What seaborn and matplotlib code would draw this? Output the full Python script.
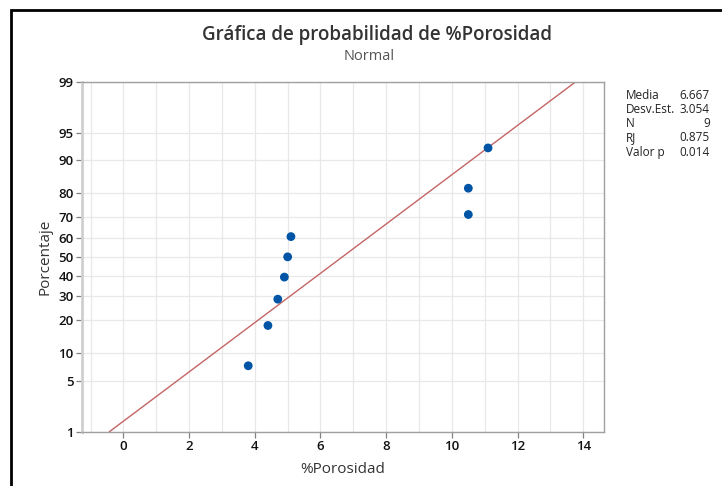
import math
import numpy as np
import pandas as pd
import matplotlib
matplotlib.use("Agg")
import matplotlib.pyplot as plt
import matplotlib.ticker as mticker
from matplotlib.patches import Rectangle
import seaborn as sns
from statistics import NormalDist

# ---- data ----
porosidad = [3.8, 4.4, 4.7, 4.9, 5.0, 5.1, 10.5, 10.5, 11.1]
porcentaje = [7.4, 18.1, 28.7, 39.4, 50.0, 60.6, 71.3, 81.9, 92.6]
media = 6.667
desv = 3.054
n = 9
rj = 0.875
valor_p = 0.014
y_ticks = [1, 5, 10, 20, 30, 40, 50, 60, 70, 80, 90, 95, 99]
x_ticks = [0, 2, 4, 6, 8, 10, 12, 14]
line_pct = [1, 99]

nd = NormalDist()


def _f(p):
    if p is None or math.isnan(p):
        return float("nan")
    return nd.inv_cdf(min(max(p / 100.0, 1e-9), 1 - 1e-9))


def _i(z):
    if z is None or math.isnan(z):
        return float("nan")
    return nd.cdf(z) * 100.0


_fwd = np.vectorize(_f, otypes=[float])
_inv = np.vectorize(_i, otypes=[float])


def forward(p):
    return _fwd(np.asarray(p, dtype=float))


def inverse(z):
    return _inv(np.asarray(z, dtype=float))


line_x = [media + desv * nd.inv_cdf(p / 100.0) for p in line_pct]

df = pd.DataFrame({"x": porosidad, "p": porcentaje})
df_line = pd.DataFrame({"x": line_x, "p": line_pct})

sns.set_theme(style="white")
plt.rcParams["font.family"] = ["Open Sans", "DejaVu Sans"]

fig = plt.figure(figsize=(7.22, 4.86), dpi=100)
ax = fig.add_axes([82 / 722, 1 - 432 / 486, (604 - 82) / 722, (432 - 81.7) / 486])
ax.set_yscale("function", functions=(forward, inverse))

sns.lineplot(data=df_line, x="x", y="p", ax=ax, color="#C46464", lw=1.0, zorder=2)
sns.scatterplot(data=df, x="x", y="p", ax=ax, color="#0054A6", s=40,
                edgecolor="none", zorder=3)

ax.set_xlim(-1.26, 14.63)
ax.set_ylim(1, 99)
ax.set_yticks(y_ticks)
ax.yaxis.set_major_formatter(mticker.FuncFormatter(lambda v, pos: f"{v:g}"))
ax.yaxis.set_minor_locator(mticker.NullLocator())
ax.set_xticks(x_ticks)
ax.xaxis.set_minor_locator(mticker.MultipleLocator(1))

ax.grid(True, which="major", axis="y", color="#e8e8e8", lw=0.9)
ax.grid(True, which="both", axis="x", color="#e8e8e8", lw=0.9)
ax.set_axisbelow(True)

for s in ax.spines.values():
    s.set_color("#a0a0a0")
    s.set_linewidth(1.0)
ax.spines["left"].set_color("#cfcfcf")
ax.spines["left"].set_linewidth(2.0)

ax.tick_params(axis="both", which="major", direction="out", length=4, width=0.9,
               color="#808080", labelsize=9.5, labelcolor="#111111", pad=2,
               left=True, bottom=True)
ax.tick_params(axis="x", which="minor", length=0)
for lab in ax.get_xticklabels() + ax.get_yticklabels():
    lab.set_fontweight("semibold")

ax.set_xlabel("%Porosidad", fontsize=11, color="#333333", labelpad=6)
ax.set_ylabel("Porcentaje", fontsize=11, color="#333333", labelpad=4)

fig.text(377 / 722, 1 - 35 / 486, "Gráfica de probabilidad de %Porosidad",
         ha="center", va="center", fontsize=13.5, fontweight="semibold", color="#333333")
fig.text(369 / 722, 1 - 56 / 486, "Normal", ha="center", va="center",
         fontsize=10.5, color="#555555")

labels = ["Media", "Desv.Est.", "N", "RJ", "Valor p"]
values = [f"{media:.3f}", f"{desv:.3f}", f"{n}", f"{rj:.3f}", f"{valor_p:.3f}"]
for i, (lab, val) in enumerate(zip(labels, values)):
    yy = 1 - (95 + i * 14.3) / 486
    fig.text(626 / 722, yy, lab, ha="left", va="center", fontsize=8.5, color="#222222")
    fig.text(710 / 722, yy, val, ha="right", va="center", fontsize=8.5, color="#222222")

# outer black frame (left and top visible)
fig.patches.append(Rectangle((11 / 722, -0.1), 1.2, 1 - 10 / 486 + 0.1,
                             transform=fig.transFigure, fill=False,
                             edgecolor="black", lw=2, zorder=10))

fig.savefig("out.png", dpi=100)
